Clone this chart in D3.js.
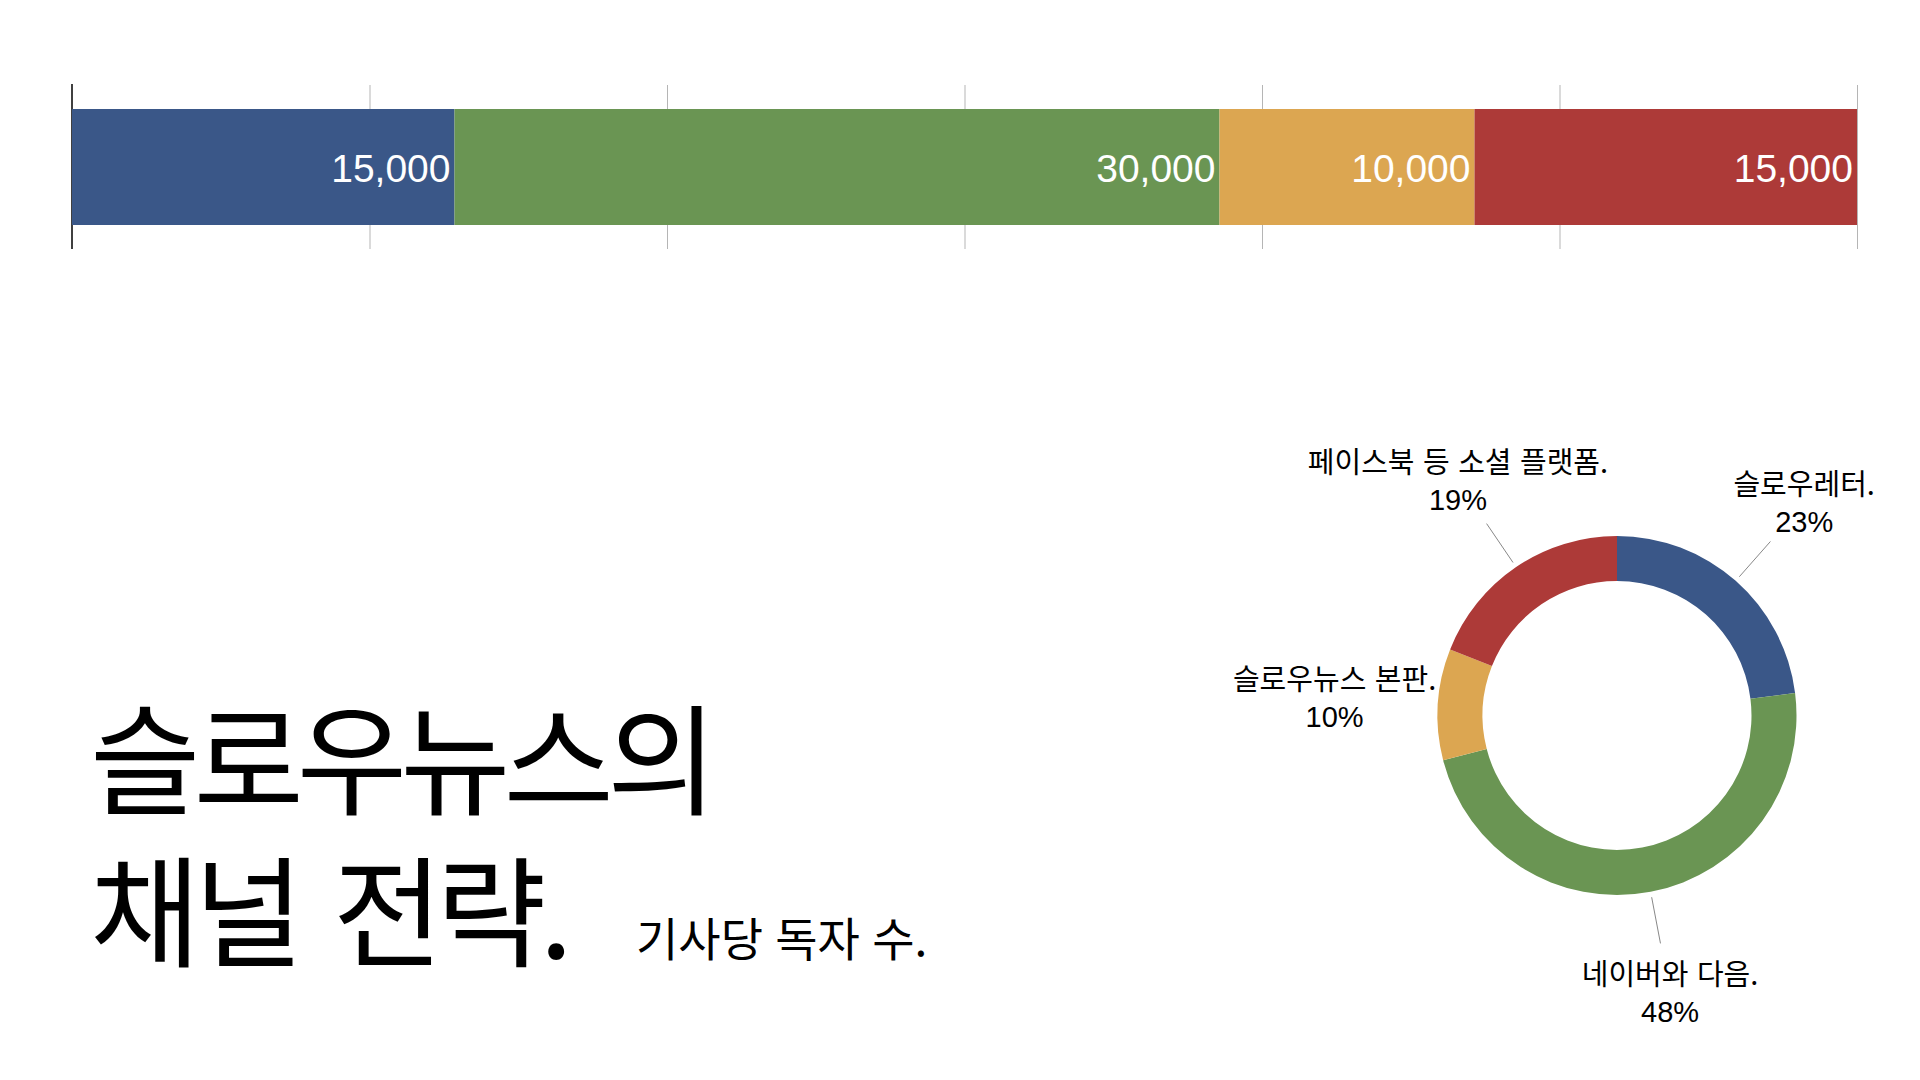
<!DOCTYPE html>
<html>
<head>
<meta charset="utf-8">
<script src="https://cdn.jsdelivr.net/npm/d3@7"></script>
<style>
  html, body { margin: 0; padding: 0; background: #fff; }
  svg { display: block; }
</style>
</head>
<body>
<svg id="chart"></svg>
<script>
// channels, readers per article (bar) and share (donut)
const channels = ["슬로우레터", "네이버와 다음", "슬로우뉴스 본판", "페이스북 등 소셜 플랫폼"];
const readers = [15000, 30000, 10000, 15000];
const shares = [23, 48, 10, 19];
const colors = ["#3a5788", "#6a9553", "#dca651", "#ad3a38"];
const axisMax = 70000;
const tickCount = 6;
const titleLines = ["슬로우뉴스의", "채널 전략."];
const subtitle = "기사당 독자 수.";

const W = 1920, H = 1080;
const svg = d3.select("#chart").attr("width", W).attr("height", H);

const latin = "'Helvetica Neue', Helvetica, 'Liberation Sans', Arial, 'Noto Sans CJK KR', sans-serif";
const korean = "'Noto Sans CJK KR', 'Liberation Sans', sans-serif";

// ---- stacked bar ----
const x = d3.scaleLinear().domain([0, axisMax]).range([72, 1857]);
const barTop = 109, barH = 116;

let acc = 0;
const stack = readers.map((v, i) => {
    const d = { i: i, v: v, x0: acc, x1: acc + v };
    acc += v;
    return d;
});

const grid = d3.axisTop(x)
    .tickValues(d3.range(1, tickCount + 1).map(k => axisMax * k / tickCount))
    .tickSize(-(249 - 85))
    .tickFormat("");

svg.append("g")
    .attr("transform", "translate(0,85)")
    .call(grid)
    .call(g => g.select(".domain").remove())
    .selectAll("line")
    .attr("stroke", "#b5b5b5")
    .attr("stroke-width", 1);

svg.append("line")
    .attr("x1", x(0)).attr("x2", x(0))
    .attr("y1", 84).attr("y2", 249)
    .attr("stroke", "#000")
    .attr("stroke-width", 1.5);

svg.selectAll(".bar").data(stack)
    .enter()
    .append("rect")
    .attr("class", "bar")
    .attr("x", d => x(d.x0))
    .attr("y", barTop)
    .attr("width", d => x(d.x1) - x(d.x0))
    .attr("height", barH)
    .attr("fill", d => colors[d.i]);

svg.selectAll(".val").data(stack)
    .enter()
    .append("text")
    .attr("x", d => x(d.x1) - 4)
    .attr("y", 182)
    .attr("text-anchor", "end")
    .style("font-family", latin)
    .style("font-size", "39px")
    .attr("fill", "#fff")
    .text(d => d3.format(",")(d.v));

// ---- donut ----
const cx = 1617, cy = 715.5;
const rOuter = 179.5, rInner = 134.5;

const pie = d3.pie().sort(null).value(d => d)(shares);
const arc = d3.arc().innerRadius(rInner).outerRadius(rOuter);

const donut = svg.append("g").attr("transform", `translate(${cx},${cy})`);

donut.selectAll(".slice").data(pie)
    .enter()
    .append("path")
    .attr("class", "slice")
    .attr("d", arc)
    .attr("fill", (d, i) => colors[i]);

const mid = d => (d.startAngle + d.endAngle) / 2;
const polar = (a, r) => [Math.sin(a) * r, -Math.cos(a) * r];

// leader lines (small slice label sits right next to the ring, no line)
donut.selectAll(".leader").data(pie.filter(d => d.value >= 15))
    .enter()
    .append("line")
    .attr("class", "leader")
    .attr("x1", d => polar(mid(d), 185)[0])
    .attr("y1", d => polar(mid(d), 185)[1])
    .attr("x2", d => polar(mid(d), 232)[0])
    .attr("y2", d => polar(mid(d), 232)[1])
    .attr("stroke", "#888")
    .attr("stroke-width", 1);

const lab = donut.selectAll(".lab").data(pie)
    .enter()
    .append("text")
    .attr("class", "lab")
    .attr("text-anchor", "middle")
    .style("font-size", "29px")
    .attr("fill", "#000");

lab.append("tspan")
    .attr("x", d => polar(mid(d), 283)[0])
    .attr("y", d => polar(mid(d), 283)[1] - 8)
    .style("font-family", korean)
    .style("word-spacing", "2px")
    .text((d, i) => channels[i] + ".");

lab.append("tspan")
    .attr("x", d => polar(mid(d), 283)[0])
    .attr("y", d => polar(mid(d), 283)[1] + 29)
    .style("font-family", latin)
    .text(d => d.value + "%");

// ---- title (one text block, two lines) ----
const title = svg.append("text")
    .attr("class", "title")
    .style("font-family", korean)
    .style("font-size", "120px")
    .style("letter-spacing", "-7px")
    .style("word-spacing", "16px")
    .attr("fill", "#000");

title.selectAll("tspan").data(titleLines)
    .enter()
    .append("tspan")
    .attr("x", 90)
    .attr("y", (d, i) => 806 + i * 152)
    .text(d => d);

svg.append("text")
    .attr("x", 636)
    .attr("y", 956)
    .style("font-family", korean)
    .style("font-size", "46px")
    .style("word-spacing", "2px")
    .attr("fill", "#000")
    .text(subtitle);
</script>
</body>
</html>
